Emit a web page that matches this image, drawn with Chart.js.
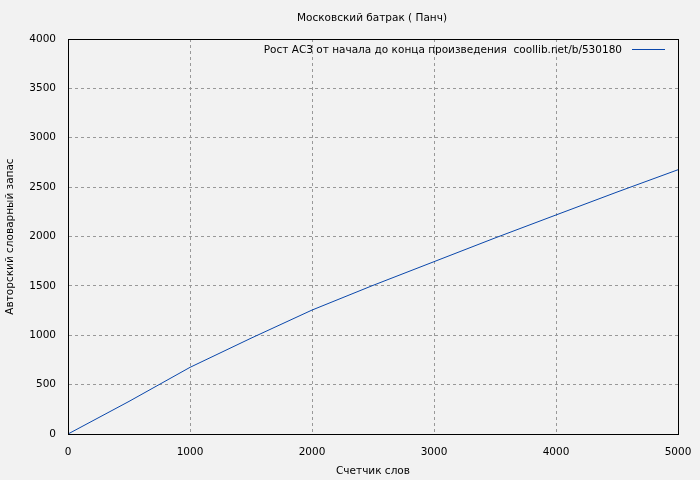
<!DOCTYPE html>
<html>
<head>
<meta charset="utf-8">
<script src="https://cdn.jsdelivr.net/npm/chart.js@4/dist/chart.umd.min.js"></script>
<style>
html,body{margin:0;padding:0;background:#f2f2f2;}
#wrap{width:700px;height:480px;}
</style>
</head>
<body>
<div id="wrap"><canvas id="c" width="700" height="480"></canvas></div>
<script>
const chartTitle = "Московский батрак ( Панч)";
const seriesLabel = "Рост АСЗ от начала до конца произведения  coollib.net/b/530180";
const xTitle = "Счетчик слов";
const yTitle = "Авторский словарный запас";
const words = [0, 500, 1000, 1500, 2000, 2500, 3000, 3500, 4000, 4500, 5000];
const vocab = [0, 330, 675, 970, 1255, 1505, 1745, 1985, 2218, 2450, 2676];

const FONT = "'DejaVu Sans', sans-serif";
const FS = 10.5;

const framePlugin = {
  id: 'frame',
  afterDraw(chart) {
    const {ctx, chartArea: a} = chart;
    ctx.save();
    ctx.strokeStyle = '#000';
    ctx.lineWidth = 1;
    ctx.strokeRect(Math.round(a.left) + 0.5, Math.round(a.top) + 0.5, Math.round(a.right - a.left), Math.round(a.bottom - a.top));
    ctx.font = FS + "px " + FONT;
    ctx.fillStyle = '#000';
    ctx.textBaseline = 'middle';
    ctx.textAlign = 'center';
    ctx.fillText(chartTitle, 372, 18);
    ctx.textAlign = 'right';
    ctx.fillText(seriesLabel, 622, 50);
    ctx.strokeStyle = '#0a47ab';
    ctx.beginPath();
    ctx.moveTo(632, 49.5);
    ctx.lineTo(665, 49.5);
    ctx.stroke();
    ctx.restore();
  }
};

const bgPlugin = {
  id: 'bg',
  beforeDraw(chart) {
    const {ctx} = chart;
    ctx.save();
    ctx.fillStyle = '#f2f2f2';
    ctx.fillRect(0, 0, chart.width, chart.height);
    ctx.restore();
  }
};

new Chart(document.getElementById('c'), {
  type: 'line',
  data: {
    datasets: [{
      label: seriesLabel,
      data: words.map((w, i) => ({x: w, y: vocab[i]})),
      borderColor: '#0a47ab',
      borderWidth: 1,
      pointRadius: 0,
      fill: false,
      tension: 0
    }]
  },
  options: {
    responsive: false,
    animation: false,
    layout: {padding: {left: 0, right: 22, top: 39, bottom: 0}},
    plugins: {
      legend: {display: false},
      tooltip: {enabled: false},
      title: {display: false}
    },
    scales: {
      x: {
        type: 'linear',
        min: 0, max: 5000,
        afterFit(s) { s.height = 46; s.paddingLeft = 0; s.paddingRight = 0; },
        ticks: {stepSize: 1000, color: '#000', font: {family: FONT, size: FS}, padding: 12, maxRotation: 0,
                callback: v => String(v)},
        grid: {color: '#999', drawTicks: false, tickLength: 0},
        border: {display: true, color: '#000', dash: [3, 3], width: 1},
        title: {display: true, text: xTitle, color: '#000', font: {family: FONT, size: FS}, padding: {top: 0, bottom: 2}}
      },
      y: {
        type: 'linear',
        min: 0, max: 4000,
        afterFit(s) { s.width = 68; s.paddingTop = 0; s.paddingBottom = 0; },
        ticks: {stepSize: 500, color: '#000', font: {family: FONT, size: FS}, padding: 12,
                callback: v => String(v)},
        grid: {color: '#999', drawTicks: false, tickLength: 0},
        border: {display: true, color: '#000', dash: [3, 3], width: 1},
        title: {display: true, text: yTitle, color: '#000', font: {family: FONT, size: FS}, padding: {top: 4, bottom: 0}}
      }
    }
  },
  plugins: [bgPlugin, framePlugin]
});
</script>
</body>
</html>
